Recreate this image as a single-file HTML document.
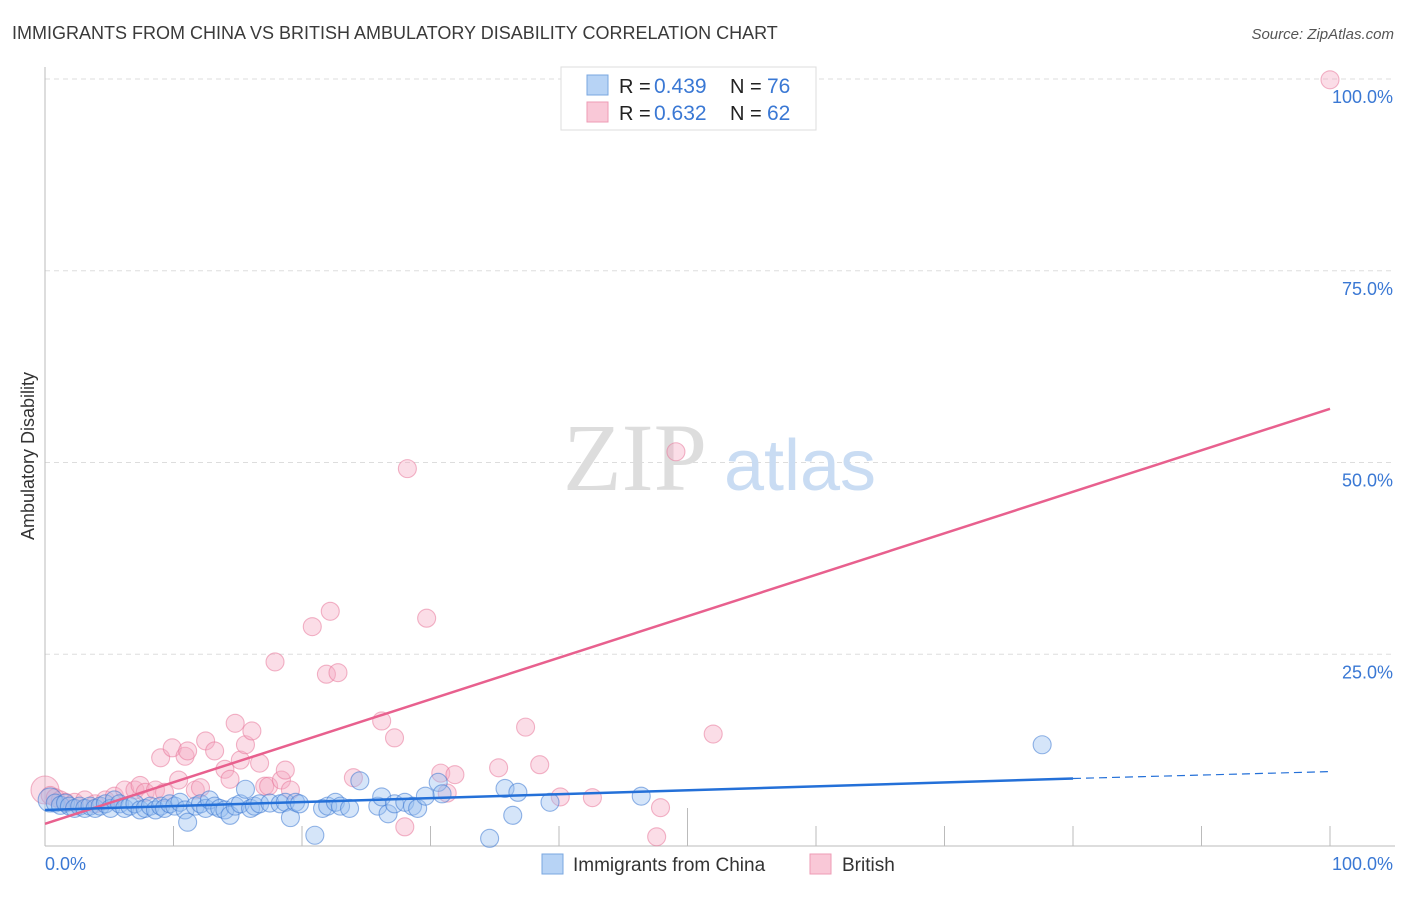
<!DOCTYPE html>
<html><head><meta charset="utf-8"><style>
body{margin:0;background:#fff;font-family:"Liberation Sans",sans-serif;}
svg text{font-family:"Liberation Sans",sans-serif;}
</style></head><body>
<svg id="c" width="1406" height="892" xmlns="http://www.w3.org/2000/svg">
<text x="12" y="39" font-size="18" fill="#3a3a3a">IMMIGRANTS FROM CHINA VS BRITISH AMBULATORY DISABILITY CORRELATION CHART</text>
<text x="1394" y="39" font-size="15" fill="#555" font-style="italic" text-anchor="end">Source: ZipAtlas.com</text>
<text x="34" y="456" font-size="18" fill="#333" text-anchor="middle" transform="rotate(-90 34 456)">Ambulatory Disability</text>
<g id="grid"></g>
<g id="wm">
<text x="635" y="490" font-size="96" fill="#ddd" text-anchor="middle" style="font-family:'Liberation Serif',serif">ZIP</text>
<text x="800" y="490" font-size="72" fill="#c9dcf3" text-anchor="middle">atlas</text>
</g>
<g id="axes"></g>
<g id="pts"></g>
<g id="lines"></g>
<g>
<rect x="561" y="67" width="255" height="63" fill="#fff" stroke="#ddd"/>
<rect x="587" y="75" width="21" height="20" fill="#b7d3f5" stroke="#7aa7e0"/>
<rect x="587" y="102" width="21" height="20" fill="#f9c8d7" stroke="#ee9bb5"/>
<text x="619" y="93" font-size="20" fill="#222">R =</text>
<text x="654" y="93" font-size="21" fill="#3a78d4">0.439</text>
<text x="730" y="93" font-size="20" fill="#222">N =</text>
<text x="767" y="93" font-size="21" fill="#3a78d4">76</text>
<text x="619" y="120" font-size="20" fill="#222">R =</text>
<text x="654" y="120" font-size="21" fill="#3a78d4">0.632</text>
<text x="730" y="120" font-size="20" fill="#222">N =</text>
<text x="767" y="120" font-size="21" fill="#3a78d4">62</text>
</g>
<g>
<rect x="542" y="854" width="21" height="20" fill="#b7d3f5" stroke="#7aa7e0"/>
<text x="573" y="871" font-size="19" fill="#333">Immigrants from China</text>
<rect x="810" y="854" width="21" height="20" fill="#f9c8d7" stroke="#ee9bb5"/>
<text x="842" y="871" font-size="19" fill="#333">British</text>
</g>
</svg>
<script>
const yTicks=[25,50,75,100];
const yTickLabels=["25.0%","50.0%","75.0%","100.0%"];
const xTickLabels=["0.0%","100.0%"];
const chinaX=[0.4,0.8,1.2,1.6,1.9,2.3,2.7,3.1,3.5,3.9,4.3,4.7,5.1,5.4,5.8,6.2,6.6,7.0,7.4,7.8,8.2,8.6,9.0,9.3,9.7,10.1,10.5,10.9,11.1,11.7,12.1,12.5,12.8,13.2,13.6,14.0,14.4,14.8,15.2,15.6,16.0,16.3,16.7,17.5,18.3,18.7,19.1,19.5,19.8,21.0,21.6,22.0,22.6,23.0,23.7,24.5,25.9,26.2,26.7,27.2,28.0,28.6,29.0,29.6,30.6,30.9,34.6,35.8,36.4,36.8,39.3,46.4,77.6];
const chinaY=[6.0,5.6,5.3,5.6,5.2,4.9,5.2,4.9,5.2,4.9,5.2,5.5,4.9,6.0,5.5,4.9,5.2,5.5,4.7,4.9,5.2,4.7,5.2,4.9,5.5,5.2,5.7,4.7,3.1,5.2,5.5,4.9,6.0,5.2,4.9,4.7,4.0,5.2,5.5,7.4,4.9,5.2,5.5,5.6,5.5,5.7,3.7,5.7,5.5,1.4,4.9,5.2,5.7,5.2,4.9,8.5,5.2,6.4,4.2,5.5,5.7,5.2,4.9,6.5,8.3,6.8,1.0,7.5,4.0,7.0,5.7,6.5,13.2];
const britX=[0,0.4,0.8,1.2,1.6,2.3,3.1,3.9,4.7,5.4,6.2,7.0,7.4,7.8,8.6,9.0,9.3,9.9,10.4,10.9,11.1,11.7,12.1,12.5,13.2,14.0,14.4,14.8,15.2,15.6,16.1,16.7,17.1,17.4,17.9,18.4,18.7,19.1,20.8,21.9,22.2,22.8,24.0,26.2,27.2,28.0,28.2,29.7,30.8,31.3,31.9,35.3,37.4,38.5,40.1,42.6,47.6,47.9,49.1,52.0,100];
const britY=[7.3,6.6,6.3,6.0,5.7,5.7,6.0,5.5,6.0,6.5,7.3,7.3,7.9,7.0,7.3,11.5,7.0,12.8,8.6,11.7,12.4,7.3,7.6,13.7,12.4,10.0,8.7,16.0,11.2,13.2,15.0,10.8,7.8,7.8,24.0,8.6,9.9,7.3,28.6,22.4,30.6,22.6,8.9,16.3,14.1,2.5,49.2,29.7,9.5,6.9,9.3,10.2,15.5,10.6,6.4,6.3,1.2,5.0,51.4,14.6,99.9];
const L=45,R=1330,T=79,B=846;
const sx=v=>L+(R-L)*v/100, sy=v=>B-(B-T)*v/100;
const NS="http://www.w3.org/2000/svg";
function mk(p,t,a){const e=document.createElementNS(NS,t);for(const k in a)e.setAttribute(k,a[k]);p.appendChild(e);return e;}
const grid=document.getElementById('grid'),axes=document.getElementById('axes'),pts=document.getElementById('pts'),lines=document.getElementById('lines');
yTicks.forEach((v,i)=>{
 const g=mk(grid,'line',{x1:L,x2:1395,y1:sy(v),y2:sy(v),stroke:'#ddd','stroke-dasharray':'5,4'});
 
 
 const t=mk(axes,'text',{x:1393,y:sy(v)+24,'font-size':18,fill:'#3a78d4','text-anchor':'end'});
 t.textContent=yTickLabels[i];
 
 
});
const ax=mk(axes,'line',{x1:L,x2:L,y1:67,y2:B,stroke:'#bbb'});


const bx=mk(axes,'line',{x1:L,x2:1395,y1:B,y2:B,stroke:'#bbb'});


for(let i=1;i<=10;i++){
 const tk=mk(axes,'line',{x1:sx(i*10),x2:sx(i*10),y1:i==5?808:826,y2:B,stroke:'#bbb'});
 
 
}
[[0,'start',45],[100,'end',1393]].forEach((d,i)=>{
 const t=mk(axes,'text',{x:d[2],y:870,'font-size':18,fill:'#3a78d4','text-anchor':d[1]});
 t.textContent=xTickLabels[i];
 
 
});
britX.forEach((x,i)=>{
 const c=mk(pts,'circle',{cx:sx(x),cy:sy(britY[i]),r:i==0?14:9,fill:'rgba(246,170,195,0.4)',stroke:'rgba(232,120,155,0.55)','stroke-width':1.1});
 
 
});
chinaX.forEach((x,i)=>{
 const c=mk(pts,'circle',{cx:sx(x),cy:sy(chinaY[i]),r:i==0?12:9,fill:'rgba(150,190,240,0.4)',stroke:'rgba(60,120,210,0.55)','stroke-width':1.1});
 
 
});
const pl=mk(lines,'line',{x1:sx(0),y1:sy(2.9),x2:sx(100),y2:sy(57.0),stroke:'#e8608e','stroke-width':2.5});


const bl=mk(lines,'line',{x1:sx(0),y1:sy(4.7),x2:sx(80),y2:sy(8.8),stroke:'#2470d8','stroke-width':2.5});


const bd=mk(lines,'line',{x1:sx(80),y1:sy(8.8),x2:sx(100),y2:sy(9.7),stroke:'#2470d8','stroke-width':1.2,'stroke-dasharray':'8,5'});


</script>
</body></html>
